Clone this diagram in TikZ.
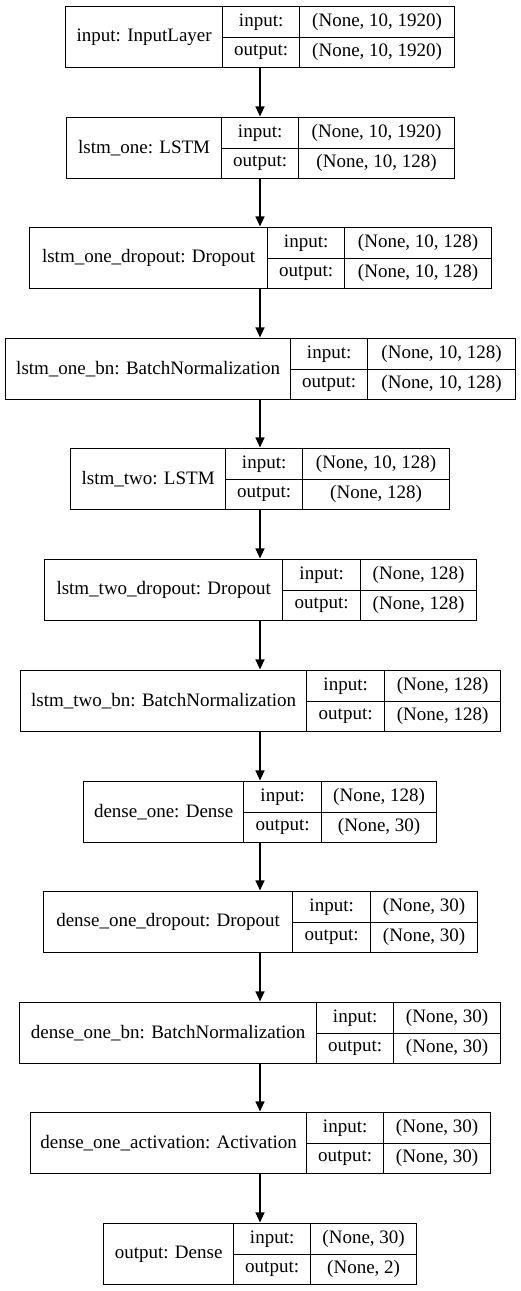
\documentclass[tikz,border=0pt]{standalone}
\usepackage{fontspec}
\setmainfont{Liberation Serif}
\usetikzlibrary{arrows.meta}
\tikzset{
  cell/.style={draw=black, line width=1.3pt, inner sep=0pt, anchor=north west, font=\fontsize{19}{21}\selectfont},
  flow/.style={draw=black, line width=1.3pt, -{Triangle[length=10pt,width=9pt]}, shorten >=0.6pt}
}
% #1 id, #2 top, #3 left, #4 div1, #5 div2, #6 right, #7 label, #8 in, #9 out
\newcommand{\kerasbox}[9]{%
  \pgfmathsetmacro{\wa}{#4-#3}\pgfmathsetmacro{\wb}{#5-#4}\pgfmathsetmacro{\wc}{#6-#5}%
  \node[cell, minimum width=\wa pt, minimum height=61pt] (#1-l) at (#3,#2) {#7};
  \node[cell, minimum width=\wb pt, minimum height=30.5pt] (#1-i) at (#4,#2) {input:};
  \node[cell, minimum width=\wb pt, minimum height=30.5pt] (#1-o) at (#4,#2+30.5) {output:};
  \node[cell, minimum width=\wc pt, minimum height=30.5pt] (#1-iv) at (#5,#2) {#8};
  \node[cell, minimum width=\wc pt, minimum height=30.5pt] (#1-ov) at (#5,#2+30.5) {#9};
  \coordinate (#1-top) at (260,#2);
  \coordinate (#1-bot) at (260,#2+61);
}
\begin{document}
\begin{tikzpicture}[x=1pt,y=-1pt]
\useasboundingbox (0,0) rectangle (520,1291);
\kerasbox{b1}{6}{65}{222}{299}{454}{input: InputLayer}{(None, 10, 1920)}{(None, 10, 1920)}
\kerasbox{b2}{117}{66}{221}{298}{454}{lstm\_one: LSTM}{(None, 10, 1920)}{(None, 10, 128)}
\kerasbox{b3}{227}{29}{267}{344}{491}{lstm\_one\_dropout: Dropout}{(None, 10, 128)}{(None, 10, 128)}
\kerasbox{b4}{338}{5}{290}{367}{515}{lstm\_one\_bn: BatchNormalization}{(None, 10, 128)}{(None, 10, 128)}
\kerasbox{b5}{448}{70}{225}{302}{449}{lstm\_two: LSTM}{(None, 10, 128)}{(None, 128)}
\kerasbox{b6}{559}{44}{282}{360}{476}{lstm\_two\_dropout: Dropout}{(None, 128)}{(None, 128)}
\kerasbox{b7}{670}{20}{306}{384}{500}{lstm\_two\_bn: BatchNormalization}{(None, 128)}{(None, 128)}
\kerasbox{b8}{781}{83}{243}{321}{436}{dense\_one: Dense}{(None, 128)}{(None, 30)}
\kerasbox{b9}{891}{43}{292}{370}{477}{dense\_one\_dropout: Dropout}{(None, 30)}{(None, 30)}
\kerasbox{b10}{1002}{19}{316}{393}{500}{dense\_one\_bn: BatchNormalization}{(None, 30)}{(None, 30)}
\kerasbox{b11}{1112}{30}{306}{383}{490}{dense\_one\_activation: Activation}{(None, 30)}{(None, 30)}
\kerasbox{b12}{1223}{103}{233}{310}{416}{output: Dense}{(None, 30)}{(None, 2)}
\foreach \a/\b in {b1/b2,b2/b3,b3/b4,b4/b5,b5/b6,b6/b7,b7/b8,b8/b9,b9/b10,b10/b11,b11/b12}
  \draw[flow] (\a-bot) -- (\b-top);
\end{tikzpicture}
\end{document}
